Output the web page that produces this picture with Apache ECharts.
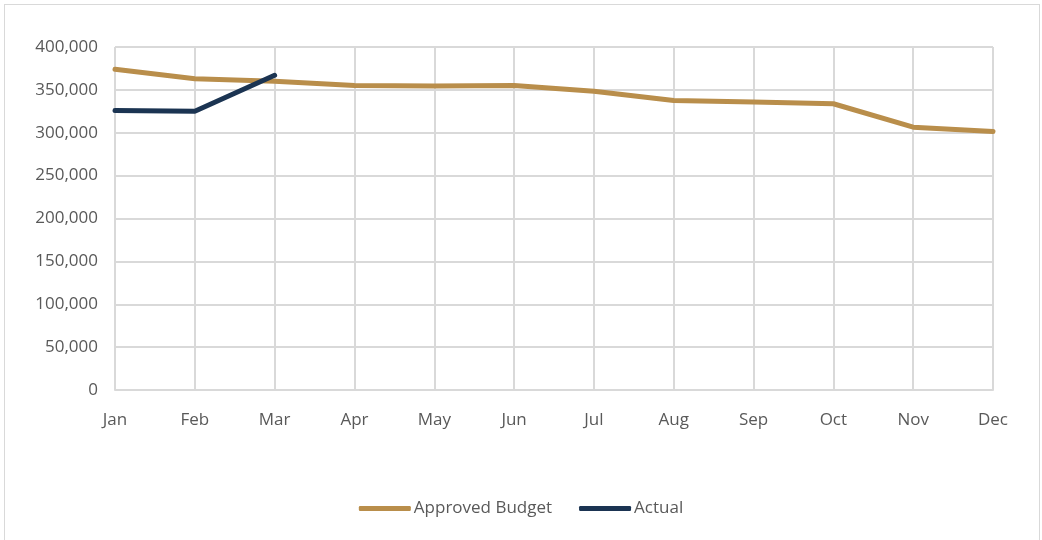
<!DOCTYPE html>
<html>
<head>
<meta charset="utf-8">
<script src="https://cdn.jsdelivr.net/npm/echarts@6/dist/echarts.min.js"></script>
<style>
  html, body { margin: 0; padding: 0; background: #fff; }
  #frame { position: absolute; left: 4px; top: 4px; width: 1036px; height: 540px; border: 1px solid #d9d9d9; box-sizing: border-box; }
  #chart { position: absolute; left: 0; top: 0; width: 1042px; height: 540px; }
</style>
</head>
<body>
<div id="frame"></div>
<div id="chart"></div>
<script>
var months = ['Jan', 'Feb', 'Mar', 'Apr', 'May', 'Jun', 'Jul', 'Aug', 'Sep', 'Oct', 'Nov', 'Dec']
var approvedBudget = [374000, 363000, 360000, 355000, 354500, 355000, 348500, 337700, 335800, 333800, 306500, 301400]
var actual = [326000, 325000, 367000]

var chart = echarts.init(document.getElementById('chart'))
chart.setOption({
  backgroundColor: 'transparent',
  color: ['#b98e4b', '#1b3452'],
  textStyle: { fontFamily: 'Open Sans' },
  legend: {
    bottom: 18,
    left: 'center',
    icon: 'roundRect',
    itemWidth: 52,
    itemHeight: 5,
    itemGap: 27,
    textStyle: { fontSize: 17, color: '#595959', padding: [0, 0, 0, -2] },
    data: ['Approved Budget', 'Actual']
  },
  grid: {
    left: 115,
    right: 49,
    top: 47,
    bottom: 150
  },
  xAxis: {
    type: 'category',
    boundaryGap: false,
    data: months,
    axisLine: { lineStyle: { color: '#d9d9d9', width: 2 } },
    axisTick: { show: false },
    axisLabel: { fontSize: 17, color: '#595959', margin: 22 },
    splitLine: { show: true, lineStyle: { color: '#d9d9d9', width: 2 } }
  },
  yAxis: {
    type: 'value',
    min: 0,
    max: 400000,
    interval: 50000,
    axisLine: { show: false },
    axisTick: { show: false },
    axisLabel: {
      fontSize: 17,
      color: '#595959',
      margin: 17,
      formatter: function(v) {
        return v.toLocaleString('en-US')
      }
    },
    splitLine: { lineStyle: { color: '#d9d9d9', width: 2 } }
  },
  series: [{
    name: 'Approved Budget',
    type: 'line',
    data: approvedBudget,
    symbol: 'none',
    lineStyle: { width: 5, cap: 'round' },
    z: 3
  }, {
    name: 'Actual',
    type: 'line',
    data: actual,
    symbol: 'none',
    lineStyle: { width: 5, cap: 'round' },
    z: 4
  }]
})
</script>
</body>
</html>
